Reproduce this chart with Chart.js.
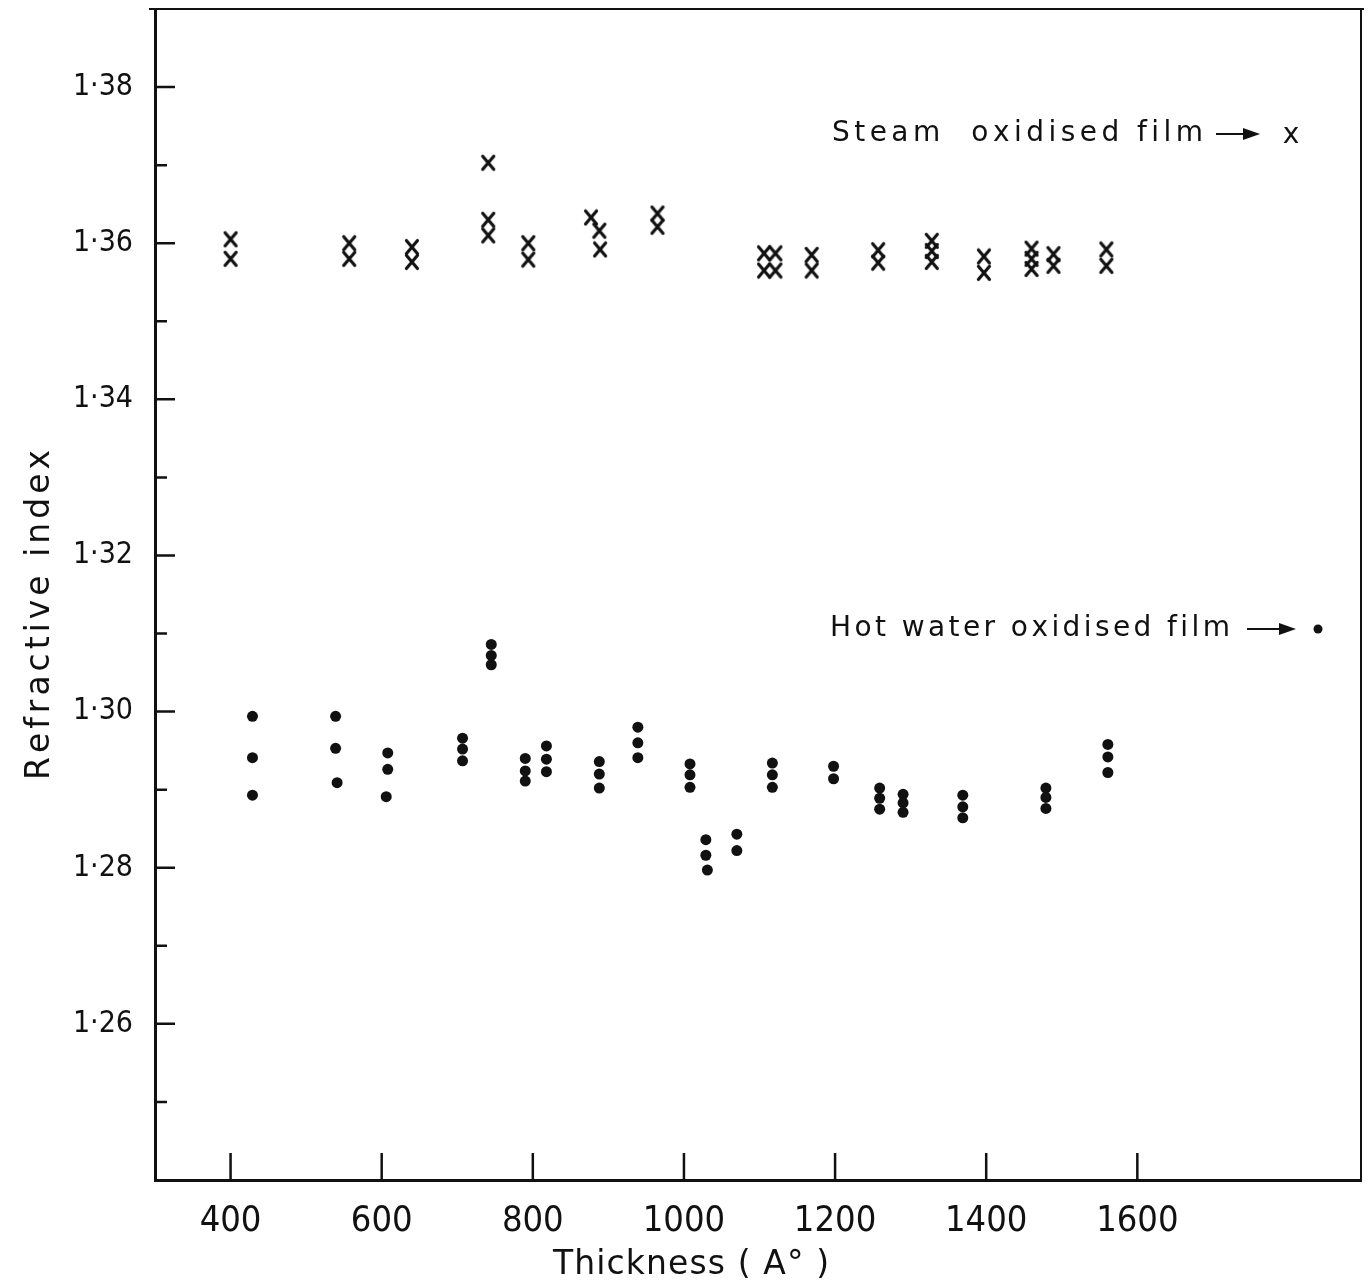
<!DOCTYPE html>
<html>
<head>
<meta charset="utf-8">
<script src="https://cdn.jsdelivr.net/npm/chart.js@4.4.1/dist/chart.umd.min.js"></script>
<style>
  html, body { margin: 0; padding: 0; background: #fff; }
  #wrap { width: 1370px; height: 1288px; }
</style>
</head>
<body>
<div id="wrap"><canvas id="chart"></canvas></div>
<script>
/* ── data ── */
const steamX = [400, 400, 557, 557, 640, 640, 741, 741, 741, 794, 794,
                877, 888, 889, 965, 965, 1106, 1106, 1121, 1121, 1169, 1169,
                1257, 1257, 1328, 1328, 1328, 1397, 1397, 1460, 1460, 1460,
                1489, 1489, 1559, 1559];
const steamY = [1.3605, 1.3580, 1.3600, 1.3580, 1.3595, 1.3576, 1.3703, 1.3630, 1.3610, 1.3600, 1.3579,
                1.3633, 1.3616, 1.3592, 1.3638, 1.3621, 1.3587, 1.3565, 1.3587, 1.3565, 1.3585, 1.3565,
                1.3591, 1.3575, 1.3603, 1.3590, 1.3576, 1.3583, 1.3562, 1.3593, 1.3580, 1.3567,
                1.3586, 1.3571, 1.3592, 1.3571];

const hotX = [429, 429, 429, 539, 539, 541, 608, 608, 606, 707, 707, 707,
              745, 745, 745, 790, 790, 790, 818, 818, 818, 888, 888, 888,
              939, 939, 939, 1008, 1008, 1008, 1029, 1029, 1031, 1070, 1070,
              1117, 1117, 1117, 1198, 1198, 1259, 1259, 1259, 1290, 1290, 1290,
              1369, 1369, 1369, 1479, 1479, 1479, 1561, 1561, 1561];
const hotY = [1.2994, 1.2941, 1.2893, 1.2994, 1.2953, 1.2909, 1.2947, 1.2926, 1.2891, 1.2966, 1.2952, 1.2937,
              1.3086, 1.3072, 1.3060, 1.2940, 1.2924, 1.2911, 1.2956, 1.2939, 1.2923, 1.2936, 1.2920, 1.2902,
              1.2980, 1.2960, 1.2941, 1.2933, 1.2919, 1.2903, 1.2836, 1.2816, 1.2797, 1.2843, 1.2822,
              1.2934, 1.2919, 1.2903, 1.2930, 1.2914, 1.2902, 1.2889, 1.2875, 1.2894, 1.2883, 1.2871,
              1.2893, 1.2878, 1.2864, 1.2902, 1.2890, 1.2876, 1.2958, 1.2942, 1.2922];

const xTicks = [400, 600, 800, 1000, 1200, 1400, 1600];
const xTickLabels = ['400', '600', '800', '1000', '1200', '1400', '1600'];
const yTicks = [1.26, 1.28, 1.30, 1.32, 1.34, 1.36, 1.38];
const yTickLabels = ['1·26', '1·28', '1·30', '1·32', '1·34', '1·36', '1·38'];
const yMinor = [1.25, 1.27, 1.29, 1.31, 1.33, 1.35, 1.37];

const INK = '#111';
const NARROW = "'Liberation Sans Narrow', 'DejaVu Sans Condensed', 'Liberation Sans', sans-serif";
const ROUND = "'DejaVu Sans', 'Liberation Sans', sans-serif";

/* hand-lettered "x" used as the steam marker (a bit taller than wide) */
function crossMark() {
  const c = document.createElement('canvas');
  c.width = 16; c.height = 18;
  const g = c.getContext('2d');
  g.strokeStyle = INK;
  g.lineWidth = 3.2;
  g.lineCap = 'round';
  g.beginPath();
  g.moveTo(2.5, 2.5); g.lineTo(13.5, 15.5);
  g.moveTo(13.5, 2.5); g.lineTo(2.5, 15.5);
  g.stroke();
  return c;
}

/* text spread out to a given width, char by char (lettering look) */
function spreadText(ctx, text, left, cy, width) {
  const chars = [...text];
  const ws = chars.map(c => ctx.measureText(c).width);
  const total = ws.reduce((s, w) => s + w, 0);
  const gap = chars.length > 1 ? (width - total) / (chars.length - 1) : 0;
  let x = left;
  ctx.textAlign = 'left';
  ctx.textBaseline = 'middle';
  chars.forEach((c, i) => { ctx.fillText(c, x, cy); x += ws[i] + gap; });
}

function arrow(ctx, x0, x1, y) {
  ctx.lineWidth = 2.2;
  ctx.beginPath(); ctx.moveTo(x0, y); ctx.lineTo(x1 - 10, y); ctx.stroke();
  ctx.beginPath();
  ctx.moveTo(x1, y); ctx.lineTo(x1 - 17, y - 6); ctx.lineTo(x1 - 17, y + 6); ctx.closePath();
  ctx.fill();
}

/* frame, inward ticks, titles and the in-plot key */
const paperPlugin = {
  id: 'paper',
  afterDraw(chart) {
    const { ctx, chartArea: a, scales: { x, y } } = chart;
    ctx.save();
    ctx.strokeStyle = INK;
    ctx.fillStyle = INK;

    ctx.lineWidth = 2;
    ctx.beginPath();
    ctx.moveTo(a.left - 6, a.top); ctx.lineTo(a.right + 3, a.top);
    ctx.moveTo(a.right, a.top); ctx.lineTo(a.right, a.bottom);
    ctx.stroke();

    ctx.lineWidth = 2.5;
    ctx.beginPath();
    xTicks.forEach(v => {
      const px = x.getPixelForValue(v);
      ctx.moveTo(px, a.bottom); ctx.lineTo(px, a.bottom - 27);
    });
    yTicks.forEach(v => {
      const py = y.getPixelForValue(v);
      ctx.moveTo(a.left, py); ctx.lineTo(a.left + 20, py);
    });
    yMinor.forEach(v => {
      const py = y.getPixelForValue(v);
      ctx.moveTo(a.left, py); ctx.lineTo(a.left + 12, py);
    });
    ctx.stroke();

    /* axis titles */
    ctx.font = '33px ' + ROUND;
    spreadText(ctx, 'Thickness ( A° )', 553, 1265, 276);
    ctx.save();
    ctx.translate(40, 780);
    ctx.rotate(-Math.PI / 2);
    spreadText(ctx, 'Refractive index', 0, 0, 330);
    ctx.restore();

    /* key */
    ctx.font = '28px ' + ROUND;
    spreadText(ctx, 'Steam  oxidised film', 832, 134, 371);
    arrow(ctx, 1216, 1260, 134);
    ctx.textAlign = 'center';
    ctx.fillText('x', 1291, 136);

    spreadText(ctx, 'Hot water oxidised film', 830, 629, 400);
    arrow(ctx, 1247, 1296, 629);
    ctx.beginPath(); ctx.arc(1318, 629, 4.5, 0, Math.PI * 2); ctx.fill();

    ctx.restore();
  }
};

new Chart(document.getElementById('chart'), {
  type: 'scatter',
  data: {
    datasets: [
      {
        label: 'Steam oxidised film',
        data: steamX.map((v, i) => ({ x: v, y: steamY[i] })),
        pointStyle: crossMark(),
        pointRadius: 8,
        borderColor: INK,
        backgroundColor: INK,
      },
      {
        label: 'Hot water oxidised film',
        data: hotX.map((v, i) => ({ x: v, y: hotY[i] })),
        pointStyle: 'circle',
        pointRadius: 5.5,
        pointBorderWidth: 0,
        borderColor: INK,
        backgroundColor: INK,
      },
    ],
  },
  options: {
    responsive: true,
    maintainAspectRatio: false,
    animation: false,
    layout: { padding: { top: 5, right: 3, left: 0, bottom: 0 } },
    plugins: { legend: { display: false }, tooltip: { enabled: false } },
    scales: {
      x: {
        type: 'linear',
        min: 300,
        max: 1896,
        grid: { display: false },
        border: { display: true, color: INK, width: 3 },
        afterBuildTicks: s => { s.ticks = xTicks.map(v => ({ value: v })); },
        afterFit: s => { s.height = 108; s.paddingLeft = 0; s.paddingRight = 0; },
        ticks: {
          color: INK,
          font: { family: NARROW, size: 36 },
          padding: 12,
          maxRotation: 0,
          callback: (v, i) => xTickLabels[i],
        },
      },
      y: {
        type: 'linear',
        min: 1.24,
        max: 1.39,
        grid: { display: false },
        border: { display: true, color: INK, width: 3 },
        afterBuildTicks: s => { s.ticks = yTicks.map(v => ({ value: v })); },
        afterFit: s => { s.width = 155; s.paddingTop = 0; s.paddingBottom = 0; },
        ticks: {
          color: INK,
          font: { family: NARROW, size: 30 },
          padding: 14,
          callback: (v, i) => yTickLabels[i],
        },
      },
    },
  },
  plugins: [paperPlugin],
});
</script>
</body>
</html>
